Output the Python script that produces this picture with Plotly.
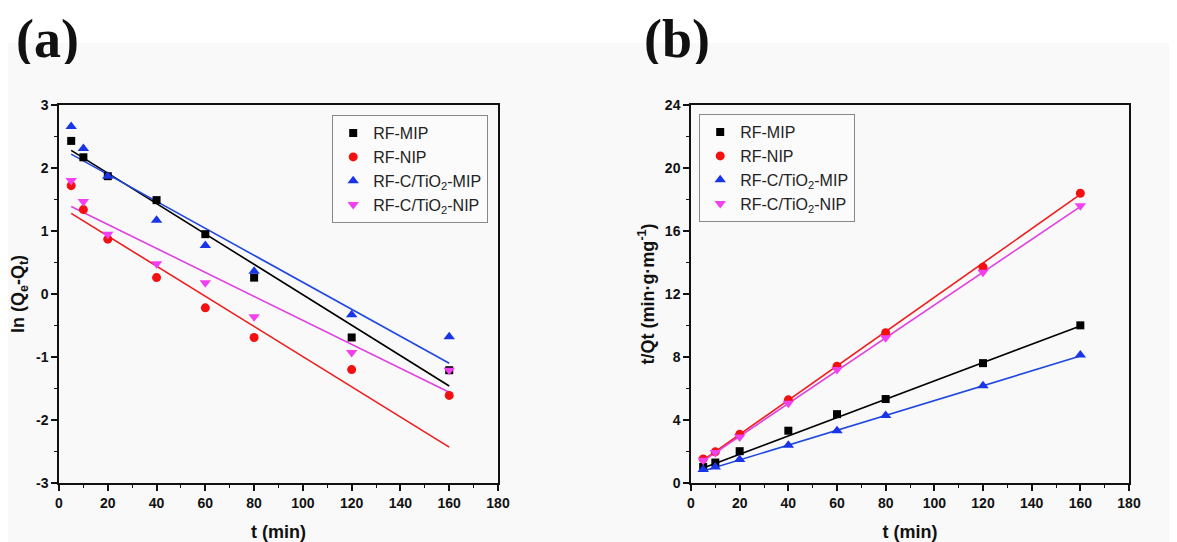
import plotly.graph_objects as go

# ---------------- data ----------------
t = [5, 10, 20, 40, 60, 80, 120, 160]
names = ["RF-MIP", "RF-NIP", "RF-C/TiO<sub>2</sub>-MIP", "RF-C/TiO<sub>2</sub>-NIP"]

# (a) pseudo-first-order: ln(Qe-Qt)
a_mip = [2.43, 2.17, 1.87, 1.49, 0.95, 0.26, -0.69, -1.21]
a_nip = [1.72, 1.34, 0.87, 0.26, -0.22, -0.69, -1.20, -1.61]
a_cmip = [2.66, 2.31, 1.87, 1.17, 0.77, 0.36, -0.33, -0.68]
a_cnip = [1.80, 1.47, 0.95, 0.48, 0.18, -0.36, -0.93, -1.21]
# fitted lines (values at t = 5 and t = 160)
fit_t = [5, 160]
a_fit_mip = [2.28, -1.46]
a_fit_nip = [1.28, -2.43]
a_fit_cmip = [2.22, -1.10]
a_fit_cnip = [1.39, -1.56]

# (b) pseudo-second-order: t/Qt
b_mip = [1.02, 1.30, 2.02, 3.32, 4.37, 5.33, 7.61, 10.01]
b_nip = [1.53, 1.98, 3.09, 5.28, 7.41, 9.54, 13.70, 18.40]
b_cmip = [0.85, 1.02, 1.49, 2.39, 3.32, 4.28, 6.18, 8.12]
b_cnip = [1.45, 1.94, 2.92, 5.07, 7.20, 9.22, 13.38, 17.60]
b_fit_mip = [0.95, 9.97]
b_fit_nip = [1.45, 18.32]
b_fit_cmip = [0.76, 8.06]
b_fit_cnip = [1.40, 17.55]

# tick labels
x_ticks = [0, 20, 40, 60, 80, 100, 120, 140, 160, 180]
a_yticks = [-3, -2, -1, 0, 1, 2, 3]
a_yticklabels = ["-3", "-2", "-1", "0", "1", "2", "3"]
b_yticks = [0, 4, 8, 12, 16, 20, 24]

colors = ["#000000", "#f21010", "#1a35e8", "#f040f0"]
line_colors = ["#000000", "#ee1c1c", "#2048e0", "#e040e0"]
symbols = ["square", "circle", "triangle-up", "triangle-down"]
sizes = [8, 9, 10, 10]

# page body has an 8px margin: figure coords = reference coords - 8
OFF = 8
W, H = 1177 - OFF, 542 - OFF
def px(xr):
    return (xr - OFF) / W
def py(yr):
    return 1 - (yr - OFF) / H

fig = go.Figure()

a_pts = [a_mip, a_nip, a_cmip, a_cnip]
a_fits = [a_fit_mip, a_fit_nip, a_fit_cmip, a_fit_cnip]
b_pts = [b_mip, b_nip, b_cmip, b_cnip]
b_fits = [b_fit_mip, b_fit_nip, b_fit_cmip, b_fit_cnip]

for i in range(4):
    fig.add_trace(go.Scatter(x=fit_t, y=a_fits[i], mode="lines",
                             line=dict(color=line_colors[i], width=1.6),
                             showlegend=False, xaxis="x", yaxis="y", hoverinfo="skip"))
for i in range(4):
    fig.add_trace(go.Scatter(x=t, y=a_pts[i], mode="markers", name=names[i],
                             marker=dict(symbol=symbols[i], color=colors[i], size=sizes[i]),
                             xaxis="x", yaxis="y", legend="legend"))
for i in range(4):
    fig.add_trace(go.Scatter(x=fit_t, y=b_fits[i], mode="lines",
                             line=dict(color=line_colors[i], width=1.6),
                             showlegend=False, xaxis="x2", yaxis="y2", hoverinfo="skip"))
for i in range(4):
    fig.add_trace(go.Scatter(x=t, y=b_pts[i], mode="markers", name=names[i],
                             marker=dict(symbol=symbols[i], color=colors[i], size=sizes[i]),
                             xaxis="x2", yaxis="y2", legend="legend2"))

tickfont = dict(family="Liberation Sans, Arial", size=14, color="#111")
titlefont = dict(family="Liberation Sans, Arial", size=18, color="#111")

common = dict(ticks="outside", ticklen=6, tickwidth=1.5, tickcolor="#111",
              showline=True, linewidth=1.5, linecolor="#111", mirror=True,
              showgrid=False, zeroline=False, automargin=False, tickfont=tickfont)

def xaxis_cfg(domain, anchor):
    return dict(domain=domain, anchor=anchor, range=[0, 180],
                tickmode="array", tickvals=x_ticks,
                ticktext=["<b>%d</b>" % v for v in x_ticks],
                minor=dict(dtick=10, tick0=0, ticks="outside", ticklen=3, tickwidth=1.2, tickcolor="#111"),
                title=dict(text="<b>t (min)</b>", font=titlefont, standoff=16), **common)

y0 = py(483)
y1 = py(105)

fig.update_layout(
    width=W, height=H,
    margin=dict(l=0, r=0, t=0, b=0),
    paper_bgcolor="white", plot_bgcolor="rgba(0,0,0,0)",
    xaxis=xaxis_cfg([px(59), px(498)], "y"),
    xaxis2=xaxis_cfg([px(691), px(1129)], "y2"),
    yaxis=dict(domain=[y0, y1], anchor="x", range=[-3, 3],
               tickmode="array", tickvals=a_yticks,
               ticktext=["<b>%s</b>" % s for s in a_yticklabels],
               minor=dict(dtick=0.5, tick0=0, ticks="outside", ticklen=3, tickwidth=1.2, tickcolor="#111"),
               title=dict(text="<b>ln (Q<sub>e</sub>-Q<sub>t</sub>)</b>", font=titlefont, standoff=10),
               **common),
    yaxis2=dict(domain=[y0, y1], anchor="x2", range=[0, 24],
                tickmode="array", tickvals=b_yticks,
                ticktext=["<b>%d</b>" % v for v in b_yticks],
                minor=dict(dtick=2, tick0=0, ticks="outside", ticklen=3, tickwidth=1.2, tickcolor="#111"),
                title=dict(text="<b>t/Qt (min·g·mg<sup>-1</sup>)</b>", font=titlefont, standoff=6),
                **common),
    legend=dict(x=px(332), y=py(115), xanchor="left", yanchor="top",
                bgcolor="#fbfbfb", bordercolor="#888", borderwidth=1.2,
                font=dict(family="Liberation Sans, Arial", size=16, color="#222"),
                tracegroupgap=0, itemwidth=30),
    legend2=dict(x=px(699), y=py(114), xanchor="left", yanchor="top",
                 bgcolor="#fbfbfb", bordercolor="#888", borderwidth=1.2,
                 font=dict(family="Liberation Sans, Arial", size=16, color="#222"),
                 tracegroupgap=0, itemwidth=30),
    shapes=[dict(type="rect", xref="paper", yref="paper", x0=0, x1=1, y0=0, y1=py(43),
                 fillcolor="#f9f9f9", line=dict(width=0), layer="below")],
    annotations=[
        dict(text="<b>(a)</b>", x=px(14), y=py(39), xref="paper", yref="paper",
             xanchor="left", yanchor="middle", height=50, showarrow=False,
             font=dict(family="Liberation Serif, Times New Roman", size=54, color="#111")),
        dict(text="<b>(b)</b>", x=px(642), y=py(39), xref="paper", yref="paper",
             xanchor="left", yanchor="middle", height=50, showarrow=False,
             font=dict(family="Liberation Serif, Times New Roman", size=54, color="#111")),
    ],
)

fig.write_html("out.html")
